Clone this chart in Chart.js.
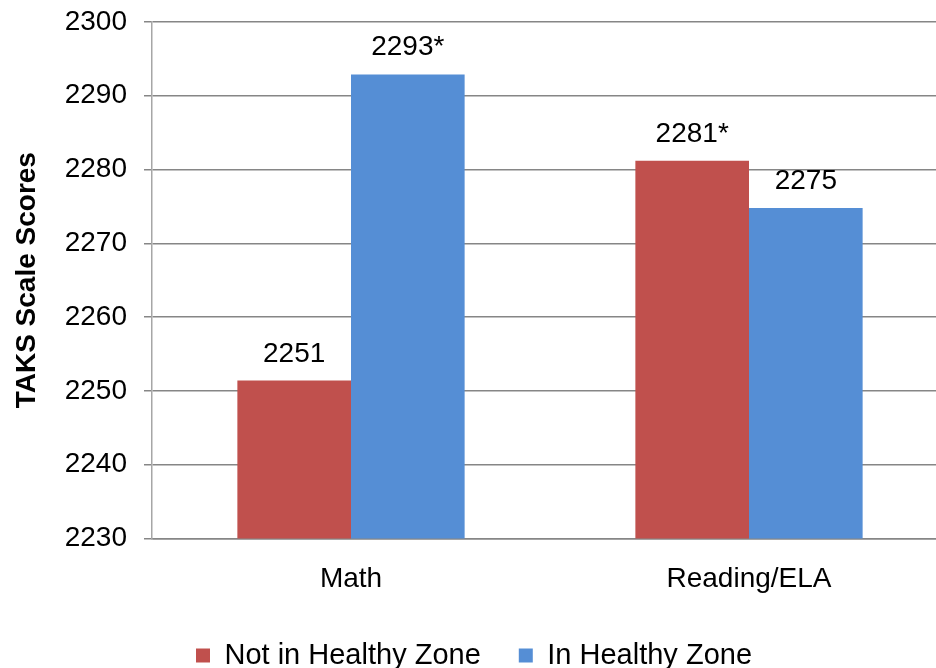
<!DOCTYPE html>
<html>
<head>
<meta charset="utf-8">
<script src="https://cdn.jsdelivr.net/npm/chart.js@4"></script>
<style>
html,body{margin:0;padding:0;background:#fff;overflow:hidden;width:936px;height:668px;}
#wrap{position:absolute;left:0;top:0;width:950px;height:668px;}
</style>
</head>
<body>
<div id="wrap"><canvas id="c" width="950" height="668"></canvas></div>
<script>
const categories = ["Math", "Reading/ELA"];
const notHealthy = [2251.4, 2281.2];
const inHealthy = [2292.9, 2274.8];
const notHealthyLabels = ["2251", "2281*"];
const inHealthyLabels = ["2293*", "2275"];
const seriesNames = ["Not in Healthy Zone", "In Healthy Zone"];
const yTitle = "TAKS Scale Scores";

const FONT = "'Liberation Sans', Arial, sans-serif";

const valueLabels = {
  id: 'valueLabels',
  afterDatasetsDraw(chart) {
    const ctx = chart.ctx;
    const all = [notHealthyLabels, inHealthyLabels];
    ctx.save();
    ctx.font = "28px " + FONT;
    ctx.fillStyle = "#000";
    ctx.textAlign = "center";
    ctx.textBaseline = "alphabetic";
    chart.data.datasets.forEach((ds, di) => {
      chart.getDatasetMeta(di).data.forEach((bar, i) => {
        ctx.fillText(all[di][i], bar.x, bar.y - 19);
      });
    });
    ctx.restore();
  }
};

// keep the legend's vertical footprint while widening the gap between its items
const SHIFT = 17;
const legendFit = {
  id: 'legendFit',
  beforeLayout(chart) {
    const lg = chart.legend;
    if (lg && !lg._fitPatched) {
      const origFit = lg.fit;
      lg.fit = function () { origFit.call(this); this.height -= SHIFT; };
      lg._fitPatched = true;
    }
  },
  afterLayout(chart) {
    const lg = chart.legend;
    if (lg) { lg.top -= SHIFT; lg.height += SHIFT; }
  }
};

new Chart(document.getElementById('c'), {
  type: 'bar',
  data: {
    labels: categories,
    datasets: [
      { label: seriesNames[0], data: notHealthy, backgroundColor: '#C0504D', borderWidth: 0 },
      { label: seriesNames[1], data: inHealthy, backgroundColor: '#558ED5', borderWidth: 0 }
    ]
  },
  options: {
    responsive: false,
    animation: false,
    devicePixelRatio: 1,
    layout: { padding: { top: 22, right: 2, bottom: -12, left: 0 } },
    datasets: { bar: { barPercentage: 1.0, categoryPercentage: 0.571 } },
    scales: {
      x: {
        grid: { display: false, drawTicks: false },
        border: { display: true, color: '#868686', width: 1.5 },
        ticks: { color: '#000', font: { family: FONT, size: 28 }, padding: 24 }
      },
      y: {
        min: 2230, max: 2300,
        afterFit(s) { s.width = 152; s.paddingTop = 0; s.paddingBottom = 0; },
        grid: { color: '#868686', lineWidth: 1.5, tickLength: 8, drawTicks: true },
        border: { display: true, color: '#a6a6a6', width: 1.5 },
        ticks: { stepSize: 10, color: '#000', font: { family: FONT, size: 28 }, padding: 17,
                 callback: v => String(v) },
        title: { display: true, text: yTitle, color: '#000', font: { family: FONT, size: 28, weight: 'bold' }, padding: { top: 10, bottom: 0 } }
      }
    },
    plugins: {
      legend: {
        position: 'bottom',
        labels: { boxWidth: 14, boxHeight: 14, color: '#000', font: { family: FONT, size: 29 }, padding: 38 }
      },
      tooltip: { enabled: false }
    }
  },
  plugins: [valueLabels, legendFit]
});
</script>
</body>
</html>
